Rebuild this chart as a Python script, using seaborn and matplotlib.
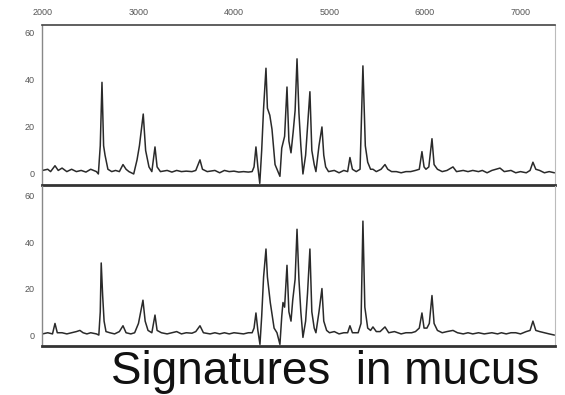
import matplotlib
matplotlib.use("Agg")
import matplotlib.pyplot as plt
import seaborn as sns
import pandas as pd

# ---- data (m/z, intensity) ----
mz_top = [1995, 2050, 2080, 2126, 2160, 2200, 2250, 2300, 2350, 2400, 2450, 2500, 2560, 2580,
          2600, 2618, 2635, 2650, 2680, 2720, 2760, 2800, 2838, 2870, 2900, 2950, 2985, 3010,
          3050, 3075, 3110, 3140, 3173, 3195, 3230, 3300, 3350, 3400, 3450, 3500, 3560, 3600,
          3644, 3670, 3720, 3800, 3850, 3900, 3950, 4000, 4050, 4100, 4150, 4190, 4210, 4230,
          4250, 4270, 4290, 4310, 4335, 4350, 4375, 4398, 4430, 4460, 4481, 4500, 4530, 4555,
          4575, 4597, 4620, 4640, 4660, 4680, 4700, 4722, 4750, 4770, 4795, 4815, 4840, 4858,
          4890, 4921, 4940, 4960, 4990, 5050, 5100, 5150, 5190, 5214, 5240, 5280, 5320, 5350,
          5375, 5400, 5430, 5455, 5490, 5540, 5581, 5610, 5650, 5700, 5750, 5800, 5850, 5900,
          5940, 5968, 5990, 6010, 6040, 6073, 6095, 6130, 6180, 6230, 6293, 6330, 6400, 6450,
          6500, 6560, 6600, 6650, 6700, 6785, 6830, 6900, 6950, 7000, 7060, 7100, 7130, 7160,
          7200, 7250, 7300, 7355]
int_top = [1.5, 2, 1, 3.5, 1.5, 2.5, 1, 2, 1, 1.5, 0.8, 2, 1, 0,
           12, 39, 12, 8, 2, 1, 1.5, 1, 4, 2, 1, 0, 6, 12,
           25.5, 10, 3, 1, 11.5, 3, 1, 1.5, 0.8, 1.5, 1, 1.2, 1, 1.5,
           6, 2, 1, 1.5, 0.5, 1.5, 1, 1.2, 0.8, 1, 0.8, 1, 3, 11.5,
           3, -4, 10, 28, 45, 28, 25, 19, 4, 1, -1, 11, 16, 37,
           14, 9, 18, 27, 49, 26, 12, 0, 8, 20, 35, 10, 4, 1,
           12, 20, 8, 3, 1, 1.5, 0.5, 1.5, 1, 7, 2, 1, 2, 46,
           12, 5, 2, 2, 1, 2, 4, 2, 1, 1, 0.5, 1, 1, 1.5,
           2, 9.5, 3, 2, 3, 15, 4, 2, 1, 1.5, 3, 1, 1.5, 1,
           1.5, 1, 1.5, 0.5, 1.5, 2.5, 1, 1.5, 0.5, 1, 0.5, 1.5, 5, 2,
           1.5, 0.5, 1, 0.5]

mz_bot = [1995, 2050, 2100, 2126, 2150, 2200, 2250, 2300, 2350, 2387, 2420, 2460, 2500, 2560,
          2585, 2600, 2610, 2625, 2640, 2660, 2700, 2750, 2800, 2838, 2870, 2920, 2960, 3000,
          3047, 3070, 3100, 3140, 3173, 3195, 3240, 3300, 3350, 3400, 3450, 3500, 3560, 3600,
          3644, 3680, 3750, 3800, 3850, 3900, 3950, 4000, 4100, 4150, 4190, 4210, 4230, 4250,
          4272, 4290, 4310, 4335, 4350, 4380, 4420, 4450, 4481, 4500, 4513, 4530, 4555, 4575,
          4597, 4615, 4640, 4660, 4680, 4700, 4722, 4750, 4770, 4795, 4815, 4840, 4858, 4890,
          4921, 4940, 4970, 5000, 5050, 5100, 5150, 5190, 5214, 5240, 5300, 5330, 5350, 5370,
          5400, 5430, 5455, 5490, 5530, 5581, 5620, 5680, 5750, 5800, 5860, 5900, 5940, 5968,
          5990, 6020, 6045, 6073, 6095, 6130, 6180, 6230, 6293, 6340, 6400, 6450, 6500, 6560,
          6620, 6700, 6760, 6800, 6850, 6900, 6950, 7000, 7060, 7100, 7130, 7160, 7200, 7250,
          7300, 7355]
int_bot = [0.5, 1, 0.5, 5, 1, 1, 0.5, 1, 1.5, 2, 1, 0.5, 1, 0.5,
           0, 10, 31, 17, 6, 1.5, 1, 0.5, 1.5, 4, 1, 0.5, 1, 5,
           15, 6, 2, 1, 8.6, 2, 1, 0.5, 1, 1.5, 0.5, 1, 0.8, 1.5,
           4, 1, 0.5, 1, 0.5, 1, 0.5, 1, 0.5, 1, 1, 3, 9.5, 2,
           -4, 8, 25, 37, 25, 14, 3, 1, -4, 8, 14, 12, 30, 10,
           6, 15, 24, 45.5, 24, 10, -1, 6, 18, 37, 10, 3, 1, 10,
           20, 6, 2, 1, 1.5, 0.5, 1, 1, 4, 1, 1, 5, 49, 12,
           3, 2, 3.5, 1.5, 1.5, 3.5, 1, 1.5, 0.5, 1, 1, 1.5, 3, 9.5,
           3, 3, 5, 17, 5, 2, 1, 1.5, 2, 1, 0.5, 1, 0.5, 1,
           0.5, 1, 0.5, 1, 0.5, 1, 1, 0.5, 1.5, 2, 6, 2, 1.5, 1,
           0.5, 0]

xticks = [2000, 3000, 4000, 5000, 6000, 7000]
xtick_labels = ["2000", "3000", "4000", "5000", "6000", "7000"]
yticks = [0, 20, 40, 60]
yticks_labels = ["0", "20", "40", "60"]
caption = "Signatures  in mucus"

# ---- figure ----
sns.set_theme(style="white")
plt.rcParams["font.family"] = ["Liberation Sans", "DejaVu Sans"]

W, H = 565, 395
fig = plt.figure(figsize=(W / 100, H / 100), dpi=100)

def frac(x0, y0, x1, y1):
    return [x0 / W, 1 - y1 / H, (x1 - x0) / W, (y1 - y0) / H]

ax_top = fig.add_axes(frac(42, 25, 555, 185))
ax_bot = fig.add_axes(frac(42, 186, 555, 346))

line_col = "#2a2a2a"
df_top = pd.DataFrame({"mz": mz_top, "intensity": int_top})
df_bot = pd.DataFrame({"mz": mz_bot, "intensity": int_bot})
sns.lineplot(data=df_top, x="mz", y="intensity", ax=ax_top, color=line_col, lw=1.1)
sns.lineplot(data=df_bot, x="mz", y="intensity", ax=ax_bot, color=line_col, lw=1.1)

ax_top.set_ylim(-4.7, 63.4)
ax_bot.set_ylim(-4.7, 64.1)
for ax in (ax_top, ax_bot):
    ax.set_xlim(1990, 7361)
    ax.set_xlabel("")
    ax.set_ylabel("")
    ax.set_yticks(yticks)
    ax.set_yticklabels(yticks_labels)
    ax.tick_params(axis="y", length=0, pad=5, labelsize=6.5, labelcolor="#555555")
    ax.spines["left"].set_color("#888888")
    ax.spines["left"].set_linewidth(1.0)
    ax.spines["right"].set_color("#bbbbbb")
    ax.spines["right"].set_linewidth(0.8)
    ax.spines["bottom"].set_color("#333333")
    ax.spines["bottom"].set_linewidth(2.0)
    ax.set_facecolor("none")

ax_top.spines["top"].set_color("#444444")
ax_top.spines["top"].set_linewidth(1.2)
ax_bot.spines["top"].set_visible(False)

ax_top.set_xticks(xticks)
ax_top.set_xticklabels(xtick_labels)
ax_top.xaxis.tick_top()
ax_top.tick_params(axis="x", length=0, pad=6, labelsize=6.5, labelcolor="#555555")
ax_bot.set_xticks([])

fig.text(325 / W, 1 - 384 / H, caption, ha="center", va="baseline",
         fontsize=33, color="#111111", family=["Liberation Sans", "DejaVu Sans"])

fig.savefig("out.png", dpi=100)
